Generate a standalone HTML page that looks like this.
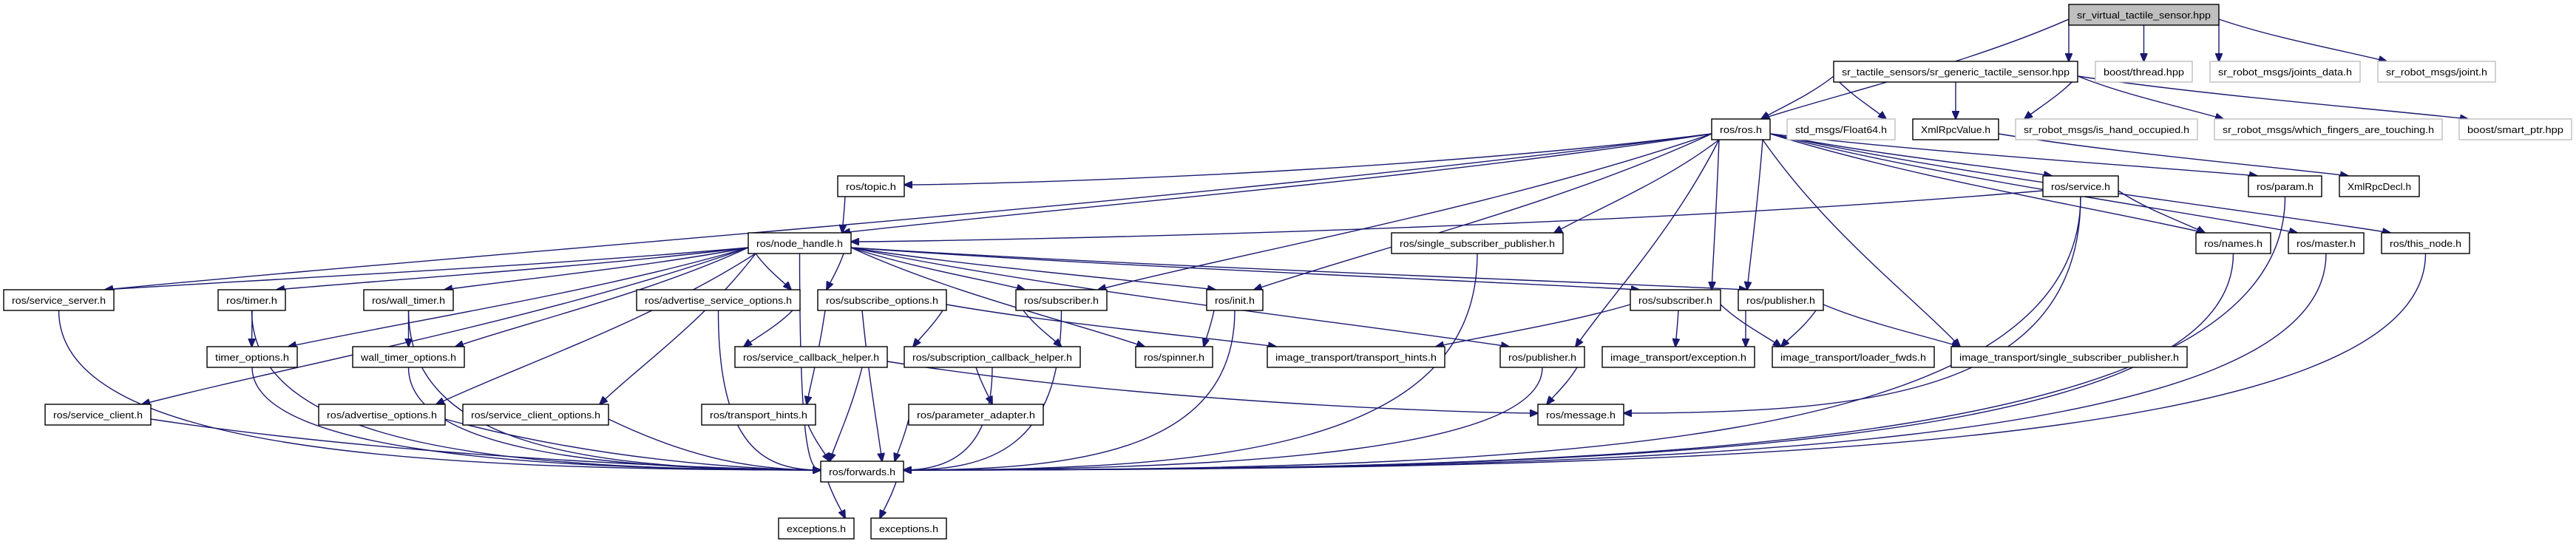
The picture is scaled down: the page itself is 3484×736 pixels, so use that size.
<!DOCTYPE html>
<html><head><meta charset="utf-8">
<style>
html,body{margin:0;padding:0;background:#fff;}
svg{display:block;}
text{font-family:"Liberation Sans","DejaVu Sans",sans-serif;font-size:13px;fill:#000;}
.n{fill:#fff;stroke:#000;stroke-width:1.4;}
.g{fill:#fff;stroke:#bfbfbf;stroke-width:1.4;}
.r{fill:#bfbfbf;stroke:#000;stroke-width:1.4;}
.e{fill:none;stroke:#191970;stroke-width:1.4;}
</style></head><body>
<svg id="s" width="3484" height="736" viewBox="0 0 3484 736" xmlns="http://www.w3.org/2000/svg">
<defs><marker id="a" markerWidth="12" markerHeight="10" refX="11" refY="5" orient="auto" markerUnits="userSpaceOnUse"><path d="M0,0 L12,5 L0,10 z" fill="#191970" stroke="#191970"/></marker></defs>
<g id="edges"></g>
<g id="nodes">
<rect class="r" x="2798" y="6" width="203" height="28"/><text x="2809" y="25" textLength="181" lengthAdjust="spacingAndGlyphs">sr_virtual_tactile_sensor.hpp</text>
<rect class="n" x="2480" y="83" width="330" height="28"/><text x="2491" y="102" textLength="308" lengthAdjust="spacingAndGlyphs">sr_tactile_sensors/sr_generic_tactile_sensor.hpp</text>
<rect class="g" x="2834" y="83" width="131" height="28"/><text x="2845" y="102" textLength="109" lengthAdjust="spacingAndGlyphs">boost/thread.hpp</text>
<rect class="g" x="2989" y="83" width="203" height="28"/><text x="3000" y="102" textLength="181" lengthAdjust="spacingAndGlyphs">sr_robot_msgs/joints_data.h</text>
<rect class="g" x="3216" y="83" width="159" height="28"/><text x="3227" y="102" textLength="137" lengthAdjust="spacingAndGlyphs">sr_robot_msgs/joint.h</text>
<rect class="n" x="2315" y="161" width="79" height="28"/><text x="2326" y="180" textLength="57" lengthAdjust="spacingAndGlyphs">ros/ros.h</text>
<rect class="g" x="2417" y="161" width="146" height="28"/><text x="2428" y="180" textLength="124" lengthAdjust="spacingAndGlyphs">std_msgs/Float64.h</text>
<rect class="n" x="2587" y="161" width="116" height="28"/><text x="2598" y="180" textLength="94" lengthAdjust="spacingAndGlyphs">XmlRpcValue.h</text>
<rect class="g" x="2726" y="161" width="246" height="28"/><text x="2737" y="180" textLength="224" lengthAdjust="spacingAndGlyphs">sr_robot_msgs/is_hand_occupied.h</text>
<rect class="g" x="2995" y="161" width="308" height="28"/><text x="3006" y="180" textLength="286" lengthAdjust="spacingAndGlyphs">sr_robot_msgs/which_fingers_are_touching.h</text>
<rect class="g" x="3326" y="161" width="152" height="28"/><text x="3337" y="180" textLength="130" lengthAdjust="spacingAndGlyphs">boost/smart_ptr.hpp</text>
<rect class="n" x="1133" y="238" width="90" height="28"/><text x="1144" y="257" textLength="68" lengthAdjust="spacingAndGlyphs">ros/topic.h</text>
<rect class="n" x="2763" y="238" width="102" height="28"/><text x="2774" y="257" textLength="80" lengthAdjust="spacingAndGlyphs">ros/service.h</text>
<rect class="n" x="3041" y="238" width="99" height="28"/><text x="3052" y="257" textLength="77" lengthAdjust="spacingAndGlyphs">ros/param.h</text>
<rect class="n" x="3164" y="238" width="108" height="28"/><text x="3175" y="257" textLength="86" lengthAdjust="spacingAndGlyphs">XmlRpcDecl.h</text>
<rect class="n" x="1012" y="315" width="139" height="28"/><text x="1023" y="334" textLength="117" lengthAdjust="spacingAndGlyphs">ros/node_handle.h</text>
<rect class="n" x="1882" y="315" width="232" height="28"/><text x="1893" y="334" textLength="210" lengthAdjust="spacingAndGlyphs">ros/single_subscriber_publisher.h</text>
<rect class="n" x="2970" y="315" width="101" height="28"/><text x="2981" y="334" textLength="79" lengthAdjust="spacingAndGlyphs">ros/names.h</text>
<rect class="n" x="3095" y="315" width="102" height="28"/><text x="3106" y="334" textLength="80" lengthAdjust="spacingAndGlyphs">ros/master.h</text>
<rect class="n" x="3221" y="315" width="119" height="28"/><text x="3232" y="334" textLength="97" lengthAdjust="spacingAndGlyphs">ros/this_node.h</text>
<rect class="n" x="5" y="392" width="149" height="28"/><text x="16" y="411" textLength="127" lengthAdjust="spacingAndGlyphs">ros/service_server.h</text>
<rect class="n" x="295" y="392" width="91" height="28"/><text x="306" y="411" textLength="69" lengthAdjust="spacingAndGlyphs">ros/timer.h</text>
<rect class="n" x="492" y="392" width="121" height="28"/><text x="503" y="411" textLength="99" lengthAdjust="spacingAndGlyphs">ros/wall_timer.h</text>
<rect class="n" x="861" y="392" width="221" height="28"/><text x="872" y="411" textLength="199" lengthAdjust="spacingAndGlyphs">ros/advertise_service_options.h</text>
<rect class="n" x="1106" y="392" width="174" height="28"/><text x="1117" y="411" textLength="152" lengthAdjust="spacingAndGlyphs">ros/subscribe_options.h</text>
<rect class="n" x="1374" y="392" width="123" height="28"/><text x="1385" y="411" textLength="101" lengthAdjust="spacingAndGlyphs">ros/subscriber.h</text>
<rect class="n" x="1632" y="392" width="76" height="28"/><text x="1643" y="411" textLength="54" lengthAdjust="spacingAndGlyphs">ros/init.h</text>
<rect class="n" x="2205" y="392" width="122" height="28"/><text x="2216" y="411" textLength="100" lengthAdjust="spacingAndGlyphs">ros/subscriber.h</text>
<rect class="n" x="2351" y="392" width="115" height="28"/><text x="2362" y="411" textLength="93" lengthAdjust="spacingAndGlyphs">ros/publisher.h</text>
<rect class="n" x="280" y="469" width="122" height="28"/><text x="291" y="488" textLength="100" lengthAdjust="spacingAndGlyphs">timer_options.h</text>
<rect class="n" x="477" y="469" width="151" height="28"/><text x="488" y="488" textLength="129" lengthAdjust="spacingAndGlyphs">wall_timer_options.h</text>
<rect class="n" x="994" y="469" width="206" height="28"/><text x="1005" y="488" textLength="184" lengthAdjust="spacingAndGlyphs">ros/service_callback_helper.h</text>
<rect class="n" x="1223" y="469" width="238" height="28"/><text x="1234" y="488" textLength="216" lengthAdjust="spacingAndGlyphs">ros/subscription_callback_helper.h</text>
<rect class="n" x="1536" y="469" width="104" height="28"/><text x="1547" y="488" textLength="82" lengthAdjust="spacingAndGlyphs">ros/spinner.h</text>
<rect class="n" x="1714" y="469" width="240" height="28"/><text x="1725" y="488" textLength="218" lengthAdjust="spacingAndGlyphs">image_transport/transport_hints.h</text>
<rect class="n" x="2029" y="469" width="114" height="28"/><text x="2040" y="488" textLength="92" lengthAdjust="spacingAndGlyphs">ros/publisher.h</text>
<rect class="n" x="2167" y="469" width="206" height="28"/><text x="2178" y="488" textLength="184" lengthAdjust="spacingAndGlyphs">image_transport/exception.h</text>
<rect class="n" x="2397" y="469" width="219" height="28"/><text x="2408" y="488" textLength="197" lengthAdjust="spacingAndGlyphs">image_transport/loader_fwds.h</text>
<rect class="n" x="2639" y="469" width="319" height="28"/><text x="2650" y="488" textLength="297" lengthAdjust="spacingAndGlyphs">image_transport/single_subscriber_publisher.h</text>
<rect class="n" x="61" y="547" width="143" height="28"/><text x="72" y="566" textLength="121" lengthAdjust="spacingAndGlyphs">ros/service_client.h</text>
<rect class="n" x="431" y="547" width="171" height="28"/><text x="442" y="566" textLength="149" lengthAdjust="spacingAndGlyphs">ros/advertise_options.h</text>
<rect class="n" x="626" y="547" width="197" height="28"/><text x="637" y="566" textLength="175" lengthAdjust="spacingAndGlyphs">ros/service_client_options.h</text>
<rect class="n" x="949" y="547" width="154" height="28"/><text x="960" y="566" textLength="132" lengthAdjust="spacingAndGlyphs">ros/transport_hints.h</text>
<rect class="n" x="1229" y="547" width="182" height="28"/><text x="1240" y="566" textLength="160" lengthAdjust="spacingAndGlyphs">ros/parameter_adapter.h</text>
<rect class="n" x="2080" y="547" width="116" height="28"/><text x="2091" y="566" textLength="94" lengthAdjust="spacingAndGlyphs">ros/message.h</text>
<rect class="n" x="1110" y="624" width="112" height="28"/><text x="1121" y="643" textLength="90" lengthAdjust="spacingAndGlyphs">ros/forwards.h</text>
<rect class="n" x="1053" y="701" width="102" height="28"/><text x="1064" y="720" textLength="80" lengthAdjust="spacingAndGlyphs">exceptions.h</text>
<rect class="n" x="1178" y="701" width="102" height="28"/><text x="1189" y="720" textLength="80" lengthAdjust="spacingAndGlyphs">exceptions.h</text>
</g>
</svg>
<script>
var R=[6,83,161,238,315,392,469,547,624,701];
var N={root:[2798,203,0],gen:[2480,330,1],thread:[2834,131,1],jdata:[2989,203,1],joint:[3216,159,1],
ros:[2315,79,2],f64:[2417,146,2],xrv:[2587,116,2],hand:[2726,246,2],fing:[2995,308,2],sptr:[3326,152,2],
topic:[1133,90,3],svc:[2763,102,3],param:[3041,99,3],xrd:[3164,108,3],
nh:[1012,139,4],ssp:[1882,232,4],names:[2970,101,4],master:[3095,102,4],thisn:[3221,119,4],
ssrv:[5,149,5],timer:[295,91,5],wtimer:[492,121,5],aso:[861,221,5],subo:[1106,174,5],sub1:[1374,123,5],init:[1632,76,5],sub2:[2205,122,5],pub2:[2351,115,5],
tio:[280,122,6],wto:[477,151,6],sch:[994,206,6],subch:[1223,238,6],spin:[1536,104,6],itth:[1714,240,6],pub1:[2029,114,6],itex:[2167,206,6],ldr:[2397,219,6],itssp:[2639,319,6],
sclient:[61,143,7],advo:[431,171,7],sco:[626,197,7],th:[949,154,7],padp:[1229,182,7],msg:[2080,116,7],
fwd:[1110,112,8],ex1:[1053,102,9],ex2:[1178,102,9]};
function B(id){var n=N[id];var y=R[n[2]];return {x1:n[0],x2:n[0]+n[1],y1:y,y2:y+28,cx:n[0]+n[1]/2,cy:y+14,r:n[2]};}
function cl(v,a,b){return Math.max(a,Math.min(b,v));}
var E=[
["root","ros"],["root","gen"],["root","thread"],["root","jdata"],["root","joint"],
["gen","ros"],["gen","f64"],["gen","xrv"],["gen","hand"],["gen","fing"],["gen","sptr"],
["xrv","xrd"],
["ros","topic","R"],["ros","nh"],["ros","ssrv"],["ros","sub1"],["ros","init"],["ros","ssp"],["ros","sub2"],["ros","pub1"],["ros","pub2"],["ros","itssp"],["ros","svc"],["ros","param"],["ros","names"],["ros","master"],["ros","thisn"],
["topic","nh"],
["svc","nh","R"],["svc","names"],["svc","msg","R"],["svc","fwd","R"],
["param","fwd","R"],["names","fwd","R"],["master","fwd","R"],["thisn","fwd","R"],
["nh","ssrv"],["nh","timer"],["nh","wtimer"],["nh","aso"],["nh","subo"],["nh","tio"],["nh","wto"],["nh","sclient"],["nh","advo"],["nh","sco"],["nh","fwd","L"],["nh","sub1"],["nh","init"],["nh","spin"],["nh","pub1"],["nh","sub2"],["nh","pub2"],
["ssp","fwd","R"],
["ssrv","fwd","L"],["timer","tio"],["timer","fwd","L"],["wtimer","wto"],["wtimer","fwd","L"],["aso","sch"],["aso","fwd","L"],
["subo","subch"],["subo","th"],["subo","fwd"],["subo","itth"],["sub1","subch"],["sub1","fwd","R"],["init","spin"],["init","fwd","R"],
["sub2","itth"],["sub2","itex"],["sub2","ldr"],["pub2","itex"],["pub2","ldr"],["pub2","itssp"],
["tio","fwd","L"],["wto","fwd","L"],["sch","fwd"],["sch","msg","L"],["subch","padp"],["subch","fwd","R"],["pub1","msg"],["pub1","fwd","R"],
["sclient","fwd","L"],["advo","fwd","L"],["sco","fwd","L"],["th","fwd"],["padp","fwd"],
["fwd","ex1"],["fwd","ex2"]];
var out="";
E.forEach(function(e){
 var s=B(e[0]),t=B(e[1]),m=e[2],sx,sy,ex,ey,c1x,c1y,c2x,c2y;
 var dxc=t.cx-s.cx, dyr=t.y1-s.y2;
 if(m=="R"){ex=t.x2;ey=t.cy-2;}
 else if(m=="L"){ex=t.x1;ey=t.cy-2;}
 else {ex=cl(s.cx,t.x1+12,t.x2-12);ey=t.y1;}
 if((m=="R"||m=="L")&&(t.r-s.r)>=2){
   sx=s.cx; sy=s.y2;
   c1x=sx; c1y=ey-30;
   var h=Math.abs(ex-sx)*0.55;
   c2x=(m=="R")?ex+h:ex-h; c2y=ey;
 } else {
   if(Math.abs(dxc)>3*Math.max(dyr,30)){
     sx=dxc<0?s.x1:s.x2; sy=s.cy+6;
   } else {
     sx=cl(t.cx,s.x1+10,s.x2-10); sy=s.y2;
   }
   c1x=sx+(ex-sx)*0.33; c1y=sy+(ey-sy)*0.45;
   if(m=="R"||m=="L"){
     var h2=Math.min(90,Math.abs(ex-sx)*0.3);
     c2x=(m=="R")?ex+h2:ex-h2; c2y=ey;
     c1x=sx+(ex-sx)*0.4; c1y=sy+(ey-sy)*0.8;
   } else {
     c2x=sx+(ex-sx)*0.75; c2y=sy+(ey-sy)*0.75;
   }
 }
 out+='<path class="e" marker-end="url(#a)" d="M'+sx+','+sy+' C'+c1x+','+c1y+' '+c2x+','+c2y+' '+ex+','+ey+'"/>';
});
document.getElementById("edges").innerHTML=out;
</script>
</body></html>
